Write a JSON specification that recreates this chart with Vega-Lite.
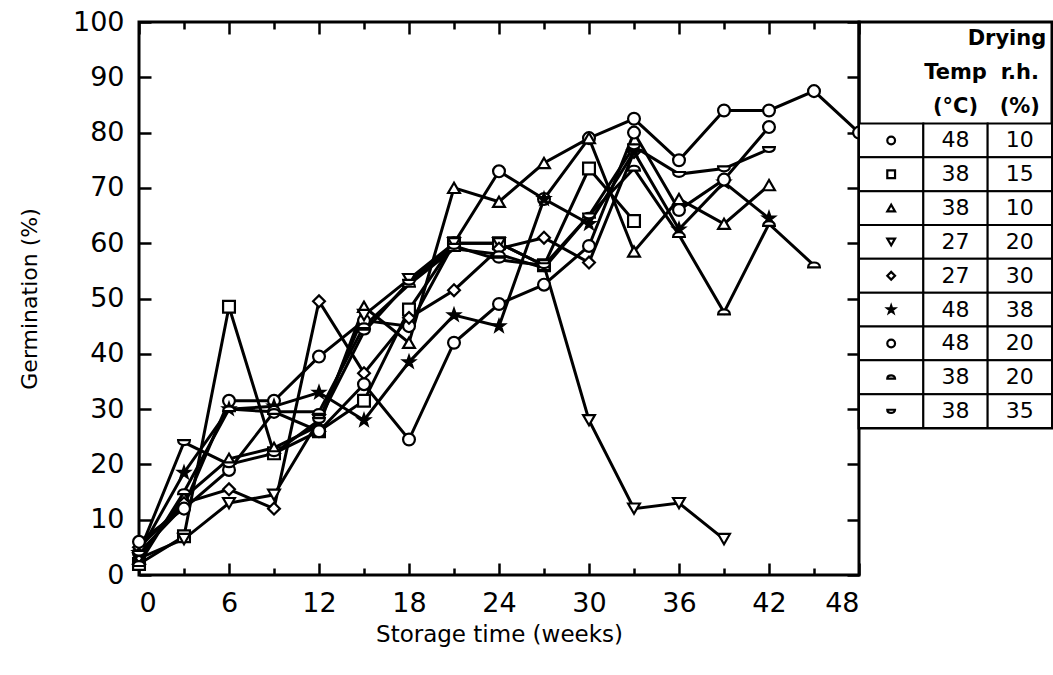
{
  "$schema": "https://vega.github.io/schema/vega-lite/v6.json",
  "padding": {"left": 16, "top": 6, "right": 0, "bottom": 0},
  "spacing": 0,
  "bounds": "flush",
  "config": {
    "font": "DejaVu Sans",
    "view": {"stroke": "black", "strokeWidth": 3},
    "axis": {"domain": false, "grid": false, "tickColor": "black", "tickWidth": 2.5, "labelColor": "black", "titleColor": "black", "labelFont": "DejaVu Sans", "titleFont": "DejaVu Sans", "titleFontWeight": "normal"}
  },
  "datasets": {
    "germination": [
      {"series": "48C-10", "week": 0, "germ": 4}, {"series": "48C-10", "week": 3, "germ": 12.5}, {"series": "48C-10", "week": 6, "germ": 31.5}, {"series": "48C-10", "week": 9, "germ": 31.5}, {"series": "48C-10", "week": 12, "germ": 39.5}, {"series": "48C-10", "week": 15, "germ": 46}, {"series": "48C-10", "week": 18, "germ": 45}, {"series": "48C-10", "week": 21, "germ": 60}, {"series": "48C-10", "week": 24, "germ": 73}, {"series": "48C-10", "week": 27, "germ": 68}, {"series": "48C-10", "week": 30, "germ": 79}, {"series": "48C-10", "week": 33, "germ": 82.5}, {"series": "48C-10", "week": 36, "germ": 75}, {"series": "48C-10", "week": 39, "germ": 84}, {"series": "48C-10", "week": 42, "germ": 84}, {"series": "48C-10", "week": 45, "germ": 87.5}, {"series": "48C-10", "week": 48, "germ": 80},
      {"series": "38C-15", "week": 0, "germ": 2}, {"series": "38C-15", "week": 3, "germ": 7}, {"series": "38C-15", "week": 6, "germ": 48.5}, {"series": "38C-15", "week": 9, "germ": 22}, {"series": "38C-15", "week": 12, "germ": 26}, {"series": "38C-15", "week": 15, "germ": 31.5}, {"series": "38C-15", "week": 18, "germ": 48}, {"series": "38C-15", "week": 21, "germ": 60}, {"series": "38C-15", "week": 24, "germ": 60}, {"series": "38C-15", "week": 27, "germ": 56}, {"series": "38C-15", "week": 30, "germ": 73.5}, {"series": "38C-15", "week": 33, "germ": 64},
      {"series": "38C-10", "week": 0, "germ": 3}, {"series": "38C-10", "week": 3, "germ": 14}, {"series": "38C-10", "week": 6, "germ": 21}, {"series": "38C-10", "week": 9, "germ": 23}, {"series": "38C-10", "week": 12, "germ": 27}, {"series": "38C-10", "week": 15, "germ": 48.5}, {"series": "38C-10", "week": 18, "germ": 42}, {"series": "38C-10", "week": 21, "germ": 70}, {"series": "38C-10", "week": 24, "germ": 67.5}, {"series": "38C-10", "week": 27, "germ": 74.5}, {"series": "38C-10", "week": 30, "germ": 79}, {"series": "38C-10", "week": 33, "germ": 58.5}, {"series": "38C-10", "week": 36, "germ": 68}, {"series": "38C-10", "week": 39, "germ": 63.5}, {"series": "38C-10", "week": 42, "germ": 70.5},
      {"series": "27C-20", "week": 0, "germ": 3}, {"series": "27C-20", "week": 3, "germ": 6.5}, {"series": "27C-20", "week": 6, "germ": 13}, {"series": "27C-20", "week": 9, "germ": 14.5}, {"series": "27C-20", "week": 12, "germ": 28}, {"series": "27C-20", "week": 15, "germ": 47}, {"series": "27C-20", "week": 18, "germ": 53.5}, {"series": "27C-20", "week": 21, "germ": 60}, {"series": "27C-20", "week": 24, "germ": 60}, {"series": "27C-20", "week": 27, "germ": 56}, {"series": "27C-20", "week": 30, "germ": 28}, {"series": "27C-20", "week": 33, "germ": 12}, {"series": "27C-20", "week": 36, "germ": 13}, {"series": "27C-20", "week": 39, "germ": 6.5},
      {"series": "27C-30", "week": 0, "germ": 5}, {"series": "27C-30", "week": 3, "germ": 13}, {"series": "27C-30", "week": 6, "germ": 15.5}, {"series": "27C-30", "week": 9, "germ": 12}, {"series": "27C-30", "week": 12, "germ": 49.5}, {"series": "27C-30", "week": 15, "germ": 36.5}, {"series": "27C-30", "week": 18, "germ": 46.5}, {"series": "27C-30", "week": 21, "germ": 51.5}, {"series": "27C-30", "week": 24, "germ": 59}, {"series": "27C-30", "week": 27, "germ": 61}, {"series": "27C-30", "week": 30, "germ": 56.5}, {"series": "27C-30", "week": 33, "germ": 76.5},
      {"series": "48C-38", "week": 0, "germ": 4}, {"series": "48C-38", "week": 3, "germ": 18.5}, {"series": "48C-38", "week": 6, "germ": 30}, {"series": "48C-38", "week": 9, "germ": 30.5}, {"series": "48C-38", "week": 12, "germ": 33}, {"series": "48C-38", "week": 15, "germ": 28}, {"series": "48C-38", "week": 18, "germ": 38.5}, {"series": "48C-38", "week": 21, "germ": 47}, {"series": "48C-38", "week": 24, "germ": 45}, {"series": "48C-38", "week": 27, "germ": 68}, {"series": "48C-38", "week": 30, "germ": 63.5}, {"series": "48C-38", "week": 33, "germ": 76.5}, {"series": "48C-38", "week": 36, "germ": 62.5}, {"series": "48C-38", "week": 39, "germ": 71}, {"series": "48C-38", "week": 42, "germ": 64.5},
      {"series": "48C-20", "week": 0, "germ": 6}, {"series": "48C-20", "week": 3, "germ": 12}, {"series": "48C-20", "week": 6, "germ": 19}, {"series": "48C-20", "week": 9, "germ": 29.5}, {"series": "48C-20", "week": 12, "germ": 26}, {"series": "48C-20", "week": 15, "germ": 34.5}, {"series": "48C-20", "week": 18, "germ": 24.5}, {"series": "48C-20", "week": 21, "germ": 42}, {"series": "48C-20", "week": 24, "germ": 49}, {"series": "48C-20", "week": 27, "germ": 52.5}, {"series": "48C-20", "week": 30, "germ": 59.5}, {"series": "48C-20", "week": 33, "germ": 80}, {"series": "48C-20", "week": 36, "germ": 66}, {"series": "48C-20", "week": 39, "germ": 71.5}, {"series": "48C-20", "week": 42, "germ": 81},
      {"series": "38C-20", "week": 0, "germ": 2}, {"series": "38C-20", "week": 3, "germ": 15}, {"series": "38C-20", "week": 6, "germ": 30}, {"series": "38C-20", "week": 9, "germ": 29.5}, {"series": "38C-20", "week": 12, "germ": 29.5}, {"series": "38C-20", "week": 15, "germ": 45}, {"series": "38C-20", "week": 18, "germ": 52.5}, {"series": "38C-20", "week": 21, "germ": 59}, {"series": "38C-20", "week": 24, "germ": 58}, {"series": "38C-20", "week": 27, "germ": 55.5}, {"series": "38C-20", "week": 30, "germ": 65}, {"series": "38C-20", "week": 33, "germ": 73.5}, {"series": "38C-20", "week": 36, "germ": 61.5}, {"series": "38C-20", "week": 39, "germ": 47.5}, {"series": "38C-20", "week": 42, "germ": 63.5}, {"series": "38C-20", "week": 45, "germ": 56},
      {"series": "38C-35", "week": 0, "germ": 4}, {"series": "38C-35", "week": 3, "germ": 24}, {"series": "38C-35", "week": 6, "germ": 20}, {"series": "38C-35", "week": 9, "germ": 22}, {"series": "38C-35", "week": 12, "germ": 28}, {"series": "38C-35", "week": 15, "germ": 44}, {"series": "38C-35", "week": 18, "germ": 53}, {"series": "38C-35", "week": 21, "germ": 59.5}, {"series": "38C-35", "week": 24, "germ": 57}, {"series": "38C-35", "week": 27, "germ": 56}, {"series": "38C-35", "week": 30, "germ": 65}, {"series": "38C-35", "week": 33, "germ": 77.5}, {"series": "38C-35", "week": 36, "germ": 72.5}, {"series": "38C-35", "week": 39, "germ": 73.5}, {"series": "38C-35", "week": 42, "germ": 77}
    ],
    "key": [
      {"row": 1, "series": "48C-10", "temp": "48", "rh": "10"},
      {"row": 2, "series": "38C-15", "temp": "38", "rh": "15"},
      {"row": 3, "series": "38C-10", "temp": "38", "rh": "10"},
      {"row": 4, "series": "27C-20", "temp": "27", "rh": "20"},
      {"row": 5, "series": "27C-30", "temp": "27", "rh": "30"},
      {"row": 6, "series": "48C-38", "temp": "48", "rh": "38"},
      {"row": 7, "series": "48C-20", "temp": "48", "rh": "20"},
      {"row": 8, "series": "38C-20", "temp": "38", "rh": "20"},
      {"row": 9, "series": "38C-35", "temp": "38", "rh": "35"}
    ],
    "header": [
      {"row": -1, "col": "temp", "label": "Temp"},
      {"row": -1, "col": "rh", "label": "r.h."},
      {"row": 0, "col": "temp", "label": "(°C)"},
      {"row": 0, "col": "rh", "label": "(%)"}
    ]
  },
  "hconcat": [
    {
      "width": 720,
      "height": 553,
      "data": {"name": "germination"},
      "layer": [
        {
          "mark": {"type": "line", "stroke": "black", "strokeWidth": 3},
          "encoding": {
            "x": {
              "field": "week", "type": "quantitative",
              "scale": {"domain": [0, 48], "nice": false},
              "axis": {
                "orient": "bottom",
                "values": [0, 3, 6, 9, 12, 15, 18, 21, 24, 27, 30, 33, 36, 39, 42, 45, 48],
                "labelExpr": "datum.value % 6 === 0 ? datum.label : ''",
                "tickSize": {"condition": {"test": "datum.value % 6 === 0", "value": -12}, "value": -7},
                "labelPadding": 27,
                "labelFontSize": 27,
                "title": "Storage time (weeks)",
                "titleFontSize": 23,
                "titlePadding": 7
              }
            },
            "y": {
              "field": "germ", "type": "quantitative",
              "scale": {"domain": [0, 100], "nice": false},
              "axis": {
                "orient": "left",
                "values": [0, 10, 20, 30, 40, 50, 60, 70, 80, 90, 100],
                "tickSize": -12,
                "labelPadding": 27,
                "labelFontSize": 27,
                "title": "Germination (%)",
                "titleFontSize": 22,
                "titlePadding": 31
              }
            },
            "detail": {"field": "series"}
          }
        },
        {
          "mark": {"type": "point", "filled": true, "stroke": "black", "strokeWidth": 2.2, "size": 140, "opacity": 1},
          "encoding": {
            "x": {
              "field": "week", "type": "quantitative",
              "axis": {
                "orient": "top",
                "values": [0, 3, 6, 9, 12, 15, 18, 21, 24, 27, 30, 33, 36, 39, 42, 45, 48],
                "labels": false,
                "tickSize": {"condition": {"test": "datum.value % 6 === 0", "value": -12}, "value": -7},
                "title": null
              }
            },
            "y": {
              "field": "germ", "type": "quantitative",
              "axis": {
                "orient": "right",
                "values": [0, 10, 20, 30, 40, 50, 60, 70, 80, 90, 100],
                "labels": false,
                "tickSize": -12,
                "title": null
              }
            },
            "shape": {
              "field": "series", "type": "nominal", "legend": null,
              "scale": {
                "domain": ["48C-10", "38C-15", "38C-10", "27C-20", "27C-30", "48C-38", "48C-20", "38C-20", "38C-35"],
                "range": ["circle", "square", "triangle-up", "triangle-down", "diamond", "M0,-1L0.235,-0.324L0.951,-0.309L0.38,0.124L0.588,0.809L0,0.4L-0.588,0.809L-0.38,0.124L-0.951,-0.309L-0.235,-0.324Z", "circle", "M-1,0.35C-1,-0.75 1,-0.75 1,0.35Z", "M-1,-0.35C-1,0.75 1,0.75 1,-0.35Z"]
              }
            },
            "fill": {
              "field": "series", "type": "nominal", "legend": null,
              "scale": {
                "domain": ["48C-10", "38C-15", "38C-10", "27C-20", "27C-30", "48C-38", "48C-20", "38C-20", "38C-35"],
                "range": ["white", "white", "white", "white", "white", "black", "white", "white", "white"]
              }
            }
          }
        }
      ],
      "resolve": {"axis": {"x": "independent", "y": "independent"}}
    },
    {
      "width": 193,
      "height": 406,
      "layer": [
        {
          "data": {"name": "key"},
          "transform": [{"fold": ["series", "temp", "rh"]}],
          "mark": {"type": "rect", "fill": "white", "stroke": "black", "strokeWidth": 2},
          "encoding": {
            "x": {"field": "key", "type": "nominal", "scale": {"domain": ["series", "temp", "rh"], "paddingInner": 0, "paddingOuter": 0}, "axis": null},
            "y": {"field": "row", "type": "ordinal", "scale": {"domain": [-2, -1, 0, 1, 2, 3, 4, 5, 6, 7, 8, 9], "paddingInner": 0, "paddingOuter": 0}, "axis": null}
          }
        },
        {
          "data": {"name": "key"},
          "mark": {"type": "point", "filled": true, "stroke": "black", "strokeWidth": 2.2, "size": 60, "opacity": 1},
          "encoding": {
            "x": {"datum": "series", "type": "nominal"},
            "y": {"field": "row", "type": "ordinal"},
            "shape": {"field": "series", "type": "nominal", "legend": null},
            "fill": {"field": "series", "type": "nominal", "legend": null}
          }
        },
        {
          "data": {"name": "key"},
          "transform": [{"fold": ["temp", "rh"]}],
          "mark": {"type": "text", "fontSize": 22, "font": "DejaVu Sans", "color": "black"},
          "encoding": {
            "x": {"field": "key", "type": "nominal"},
            "y": {"field": "row", "type": "ordinal"},
            "text": {"field": "value"}
          }
        },
        {
          "data": {"name": "header"},
          "mark": {"type": "text", "fontSize": 21, "fontWeight": "bold", "font": "DejaVu Sans", "color": "black"},
          "encoding": {
            "x": {"field": "col", "type": "nominal"},
            "y": {"field": "row", "type": "ordinal"},
            "text": {"field": "label"}
          }
        },
        {
          "data": {"values": [{"row": -2, "label": "Drying"}]},
          "mark": {"type": "text", "fontSize": 21, "fontWeight": "bold", "font": "DejaVu Sans", "color": "black"},
          "encoding": {
            "x": {"datum": "rh", "type": "nominal", "bandPosition": 0.3},
            "y": {"field": "row", "type": "ordinal"},
            "text": {"field": "label"}
          }
        }
      ]
    }
  ]
}
